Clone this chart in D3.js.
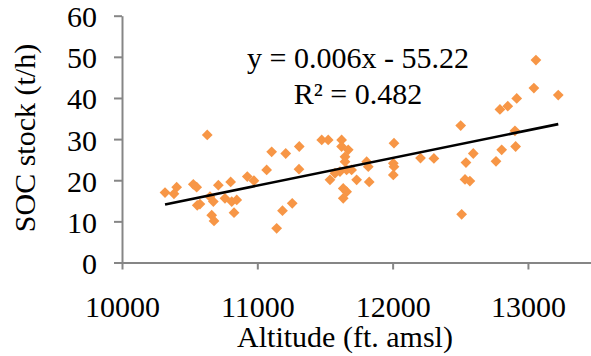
<!DOCTYPE html>
<html>
<head>
<meta charset="utf-8">
<script src="https://cdn.jsdelivr.net/npm/d3@7"></script>
<style>
  body { margin: 0; background: #fff; }
</style>
</head>
<body>
<svg id="chart" width="591" height="356"></svg>
<script>
// altitude (ft. amsl) and SOC stock (t/h)
var altitude = [10318, 10404, 10384, 10527, 10552, 10556, 10576, 10630, 10650, 10675,
  10663, 10680, 10712, 10803, 10761, 10811, 10848, 10828, 10926, 10975,
  11069, 11106, 11210, 11310, 11308, 11143, 11186, 11258,
  11476, 11524, 11623, 11623, 11672, 11648, 11648, 11574, 11611, 11660,
  11697, 11537, 11734, 11808, 11820, 11827, 11635, 11660, 11635,
  12010, 12005, 12010, 12005, 12206, 12305,
  12503, 12596, 12542, 12535, 12571, 12510, 12764, 12806, 12904, 12909,
  12793, 12851, 12917, 13044, 13059, 13224];
var socStock = [17.0, 18.3, 16.7, 19.0, 18.3, 13.9, 14.2, 31.0, 16.0, 14.8,
  11.5, 10.1, 18.8, 19.6, 15.6, 14.8, 15.2, 12.1, 20.9, 19.9,
  22.5, 26.9, 26.5, 28.2, 22.7, 8.3, 12.6, 14.4,
  29.8, 29.8, 29.8, 28.2, 27.4, 25.7, 24.5, 21.7, 22.1, 22.5,
  22.5, 20.1, 20.1, 24.5, 23.3, 19.6, 18.0, 17.2, 15.6,
  29.0, 24.1, 23.3, 21.3, 25.4, 25.3,
  33.3, 26.5, 24.3, 20.2, 19.8, 11.7, 24.6, 27.4, 32.0, 28.2,
  37.2, 38.0, 39.9, 42.4, 49.2, 40.7];

var xTicks = [10000, 11000, 12000, 13000];
var yTicks = [0, 10, 20, 30, 40, 50, 60];
var trendSlope = 0.00672, trendIntercept = -55.22;
var equationLines = ["y = 0.006x - 55.22", "R\u00b2 = 0.482"];

var svg = d3.select("#chart");
var axisColor = "#868686";

var x = d3.scaleLinear().domain([10000, 13500]).range([122, 595.6]);
var y = d3.scaleLinear().domain([0, 60]).range([262.5, 15.7]);

function styleText(sel) {
  sel.attr("font-family", "Liberation Serif").attr("font-size", 30).attr("fill", "#000");
}

// y axis
var yAxis = svg.append("g").attr("transform", "translate(122,0)")
  .call(d3.axisLeft(y).tickValues(yTicks).tickSize(8).tickSizeOuter(0));
yAxis.select(".domain").attr("stroke", axisColor).attr("stroke-width", 2);
yAxis.selectAll(".tick line").attr("stroke", axisColor).attr("stroke-width", 2);
yAxis.selectAll(".tick text")
  .attr("x", -25).attr("dy", null).attr("y", 11)
  .call(styleText);

// x axis
var xAxis = svg.append("g").attr("transform", "translate(0,262.5)")
  .call(d3.axisBottom(x).tickValues(xTicks).tickFormat(d3.format("d")).tickSize(7).tickSizeOuter(0));
xAxis.select(".domain").attr("stroke", axisColor).attr("stroke-width", 2);
xAxis.selectAll(".tick line").attr("stroke", axisColor).attr("stroke-width", 2);
xAxis.selectAll(".tick text")
  .attr("y", 54).attr("dy", null)
  .call(styleText);

// points
var pts = altitude.map(function(a, i) { return { alt: a, soc: socStock[i] }; });
svg.append("g").selectAll("path")
  .data(pts)
  .enter()
  .append("path")
  .attr("d", d3.symbol().type(d3.symbolSquare).size(58))
  .attr("transform", function(d) {
    return "translate(" + x(d.alt) + "," + y(d.soc) + ") rotate(45)";
  })
  .attr("fill", "#F79646");

// trendline
var xMin = d3.min(altitude), xMax = d3.max(altitude);
svg.append("line")
  .attr("x1", x(xMin)).attr("y1", y(trendSlope * xMin + trendIntercept))
  .attr("x2", x(xMax)).attr("y2", y(trendSlope * xMax + trendIntercept))
  .attr("stroke", "#000")
  .attr("stroke-width", 2.6);

// equation
svg.selectAll(".eq")
  .data(equationLines)
  .enter()
  .append("text")
  .attr("class", "eq")
  .attr("x", 358)
  .attr("y", function(d, i) { return 68 + i * 36; })
  .attr("text-anchor", "middle")
  .call(styleText)
  .text(function(d) { return d; });

// axis titles
svg.append("text")
  .attr("x", 345).attr("y", 347)
  .attr("text-anchor", "middle")
  .call(styleText)
  .text("Altitude (ft. amsl)");

svg.append("text")
  .attr("transform", "translate(35,138) rotate(-90)")
  .attr("text-anchor", "middle")
  .call(styleText)
  .text("SOC stock (t/h)");
</script>
</body>
</html>
